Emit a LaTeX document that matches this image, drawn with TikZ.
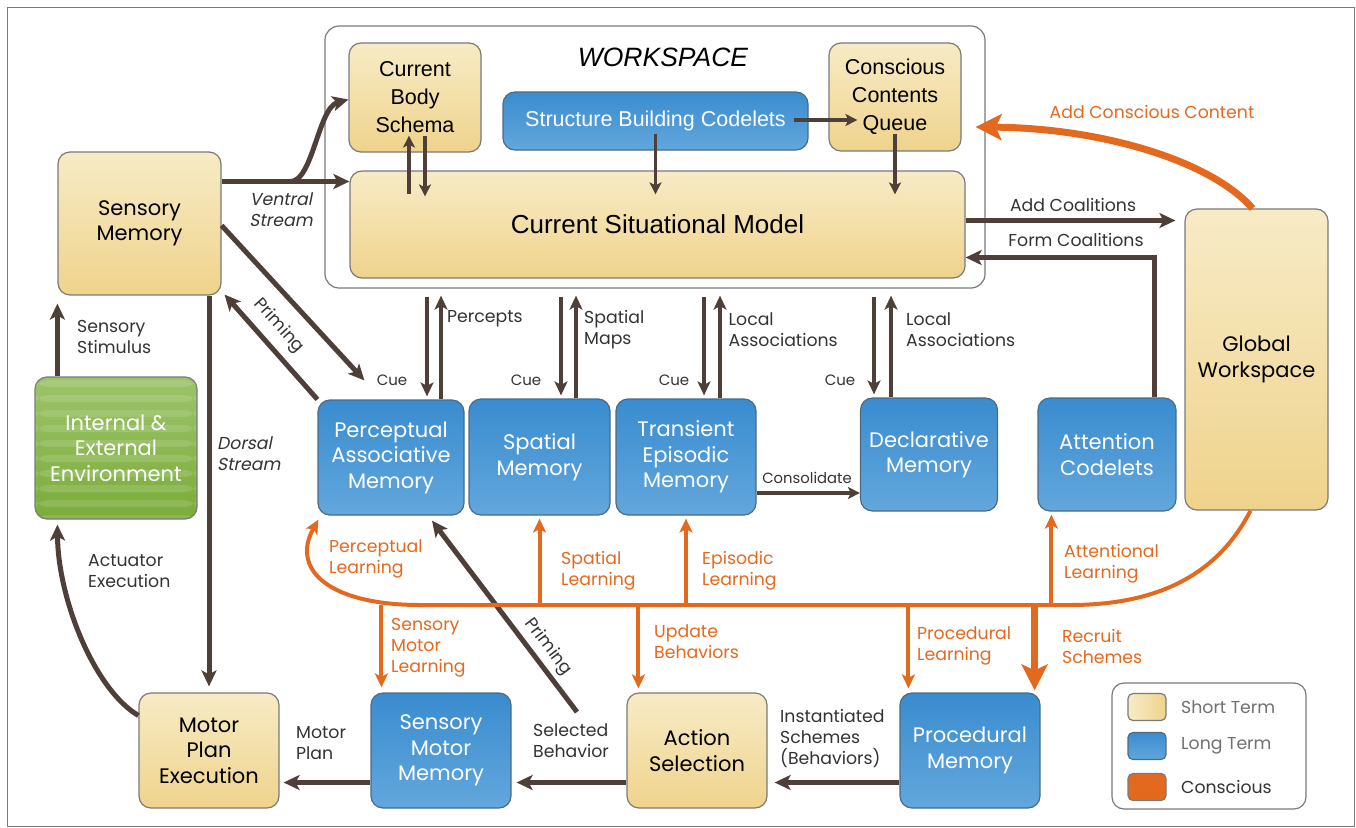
\documentclass[tikz,border=0pt]{standalone}
\usepackage{fontspec}
\setmainfont{Poppins}
\newfontfamily\hvfont{Liberation Sans}
\newfontfamily\slantfont{Poppins}[FakeSlant=0.2]
\usetikzlibrary{arrows.meta,calc}

\definecolor{brownarrow}{HTML}{4E3F38}
\definecolor{orangeline}{HTML}{E3691E}
\definecolor{beigetop}{HTML}{F7EBC6}
\definecolor{beigebot}{HTML}{EFD38C}
\definecolor{bluetop}{HTML}{3A8CCF}
\definecolor{bluebot}{HTML}{62A7DC}
\definecolor{blueline}{HTML}{4D6A85}
\definecolor{boxline}{HTML}{7A7A7A}
\definecolor{greentop}{HTML}{9CC46A}
\definecolor{greenbot}{HTML}{7BAC3A}
\definecolor{labelgray}{HTML}{333333}
\definecolor{legendgray}{HTML}{707070}

\newcommand\boxsize{\fontsize{21}{25.5}\selectfont}
\newcommand\lblsize{\fontsize{17.3}{21}\selectfont}
\newcommand\cuesize{\fontsize{15}{17}\selectfont}

\tikzset{
  stm/.style={draw=boxline, line width=1.2pt, rounded corners=12pt, top color=beigetop, bottom color=beigebot, align=center, inner sep=0pt, font=\boxsize},
  ltm/.style={draw=blueline, line width=1.2pt, rounded corners=12pt, top color=bluetop, bottom color=bluebot, text=white, align=center, inner sep=0pt, font=\boxsize},
  wstext/.style={font=\hvfont\fontsize{21.5}{28}\selectfont},
  wsbox/.style={draw=boxline, line width=1.2pt, rounded corners=14pt, fill=white},
  lbl/.style={text=labelgray, align=left, inner sep=0pt, font=\lblsize},
  orlbl/.style={lbl, text=orangeline},
  cuelbl/.style={lbl, font=\cuesize},
  brarrow/.style={draw=brownarrow, line width=5pt, -{Stealth[length=16pt,width=15pt,inset=4pt]}},
  memarrow/.style={draw=brownarrow, line width=4.5pt, -{Stealth[length=14pt,width=13pt,inset=3.5pt]}},
  wsarrow/.style={draw=brownarrow, line width=3.5pt, -{Stealth[length=12pt,width=12pt,inset=3pt]}},
  orarrow/.style={draw=orangeline, line width=4pt, -{Stealth[length=14pt,width=13pt,inset=3.5pt]}},
  bigorarrow/.style={draw=orangeline, line width=7pt, -{Stealth[length=26pt,width=26pt,inset=6pt]}},
}

\begin{document}
\begin{tikzpicture}[x=1pt, y=-1pt]
\useasboundingbox (0,0) rectangle (1356,827);
\draw [boxline, line width=1pt] (7,7) rectangle (1354,826);

\node (ws) at (655,157) [wsbox, minimum width=660pt, minimum height=262pt] {};
\node (wslabel) at (663,57) [font=\hvfont\itshape\fontsize{26.5}{30}\selectfont] {WORKSPACE};
\node (bs) at (415,97.5) [stm, wstext, minimum width=132pt, minimum height=109pt] {Current\\Body\\Schema};
\node (ccq) at (895,97) [stm, wstext, minimum width=132pt, minimum height=108pt] {Conscious\\Contents\\Queue};
\node (sbc) at (655.5,121) [ltm, wstext, minimum width=305pt, minimum height=58pt] {Structure Building Codelets};
\node (csm) at (657.5,224.5) [stm, font=\hvfont\fontsize{26}{30}\selectfont, minimum width=615pt, minimum height=107pt] {Current Situational Model};

\node (sm) at (139.5,223.5) [stm, minimum width=163pt, minimum height=143pt] {Sensory\\Memory};
\node (gw) at (1256.5,359.5) [stm, minimum width=143pt, minimum height=301pt] {Global\\Workspace};
\node (mpe) at (209,750.5) [stm, minimum width=140pt, minimum height=115pt] {Motor\\Plan\\Execution};
\node (as) at (697,750.5) [stm, minimum width=140pt, minimum height=115pt] {Action\\Selection};

\node (pam) at (391,457.5) [ltm, minimum width=146pt, minimum height=115pt] {Perceptual\\Associative\\Memory};
\node (spm) at (539.5,457) [ltm, minimum width=141pt, minimum height=116pt] {Spatial\\Memory};
\node (tem) at (686,457) [ltm, minimum width=140pt, minimum height=116pt] {Transient\\Episodic\\Memory};
\node (dm) at (929,454.5) [ltm, minimum width=137pt, minimum height=113pt] {Declarative\\Memory};
\node (ac) at (1107,454.5) [ltm, minimum width=138pt, minimum height=113pt] {Attention\\Codelets};
\node (smm) at (441,750.5) [ltm, minimum width=140pt, minimum height=115pt] {Sensory\\Motor\\Memory};
\node (pm) at (970,750.5) [ltm, minimum width=140pt, minimum height=115pt] {Procedural\\Memory};

\node (env) at (116,448) [draw=boxline, line width=1.2pt, rounded corners=12pt, top color=greentop, bottom color=greenbot, text=white, align=center, inner sep=0pt, font=\boxsize, minimum width=162pt, minimum height=142pt,
  path picture={\foreach \k in {0,...,9} \fill [white, opacity=0.13] ([yshift=-\k*15pt-3pt]path picture bounding box.north west) rectangle ([yshift=-\k*15pt-10pt]path picture bounding box.north east);}] {Internal \&\\External\\Environment};

\draw [wsarrow] ($(bs.south |- csm.north)+(-6,24)$) -- ($(bs.south)+(-6,-17)$);
\draw [wsarrow] ($(bs.south)+(10,-17)$) -- ($(bs.south |- csm.north)+(10,26)$);
\draw [wsarrow] ($(sbc.east)+(-15,-1)$) -- ($(ccq.west)+(29,23)$);
\draw [wsarrow] ($(sbc.south)+(0,-17)$) -- ($(sbc.south |- csm.north)+(0,24)$);
\draw [wsarrow] ($(ccq.south)+(0,-18)$) -- ($(ccq.south |- csm.north)+(0,24)$);

\coordinate (vs) at ($(sm.east)+(0,-42)$);
\draw [brarrow] (vs) -- (vs -| csm.west);
\draw [brarrow] ($(vs)+(69,0)$) .. controls +(22,0) and +(-30,8) .. ($(bs.west)+(0,2)$);
\node (vslbl) at (281,210) [lbl, align=center, font=\slantfont\lblsize] {Ventral\\Stream};

\coordinate (addc) at ($(csm.east)+(0,-4)$);
\draw [brarrow, shorten >=9pt] (addc) -- (addc -| gw.west);
\node (addclbl) at (1073,205) [lbl] {Add Coalitions};
\draw [brarrow] ($(ac.north)+(47,0)$) |- ($(csm.east)+(0,33)$);
\node (formlbl) at (1076,240) [lbl] {Form Coalitions};

\draw [bigorarrow] ($(gw.north)+(-4,0)$) .. controls (1210,160) and (1100,128) .. ($(ccq.east)+(14,30)$);
\node (acclbl) at (1152,112) [orlbl] {Add Conscious Content};

\draw [brarrow] ($(sm.east)+(0,2)$) -- ($(pam.north west)+(47,-19)$);
\draw [brarrow] (pam.north west) -- ($(sm.south east)+(3,-1)$);
\node (prim1) at (279,326) [lbl, rotate=-48] {Priming};

\draw [brarrow] ($(env.north west)+(23,0)$) -- ($(sm.south west)+(0,8)$);
\node (sslbl) at (77,337) [lbl, anchor=west] {Sensory\\Stimulus};

\draw [brarrow] (mpe.north |- sm.south) -- ($(mpe.north)+(0,-6)$);
\node (dslbl) at (217,454) [lbl, anchor=west, font=\slantfont\lblsize] {Dorsal\\Stream};

\draw [brarrow] ($(mpe.west)+(0,-35)$) .. controls (95,690) and (58,600) .. ($(env.south west)+(23,5)$);
\node (aelbl) at (88,571) [lbl, anchor=west] {Actuator\\Execution};

\draw [brarrow] ($(smm.west)+(0,32)$) -- ($(mpe.east)+(4,32)$);
\node (mplbl) at (296,743) [lbl, anchor=west] {Motor\\Plan};
\draw [brarrow] ($(as.west)+(0,32)$) -- ($(smm.east)+(5,32)$);
\node (sblbl) at (533,741) [lbl, anchor=west] {Selected\\Behavior};
\draw [brarrow] ($(pm.west)+(0,32)$) -- ($(as.east)+(7,32)$);
\node (islbl) at (780,739) [lbl, anchor=west] {Instantiated\\Schemes\\(Behaviors)};

\coordinate (selb) at (577,712);
\draw [brarrow] (selb) -- ($(pam.south)+(41,5)$);
\node (prim2) at (548,647) [lbl, rotate=-53] {Priming};

\coordinate (cons) at ($(tem.east)+(0,36)$);
\draw [wsarrow] (cons) -- (cons -| dm.west);
\node (conslbl) at (807,478) [lbl, font=\fontsize{14.8}{18}\selectfont] {Consolidate};

\draw [memarrow] ($(pam.north |- ws.south)+(36,8)$) -- ($(pam.north)+(36,-3)$);
\draw [memarrow] ($(pam.north)+(50,0)$) -- ($(pam.north |- ws.south)+(50,7)$);
\node (cue1) at (392,380) [cuelbl] {Cue};
\node (perclbl) at (447,319) [lbl, anchor=west] {Percepts};

\draw [memarrow] ($(spm.north |- ws.south)+(21.5,8)$) -- ($(spm.north)+(21.5,-3)$);
\draw [memarrow] ($(spm.north)+(36.5,0)$) -- ($(spm.north |- ws.south)+(36.5,7)$);
\node (cue2) at (526,380) [cuelbl] {Cue};
\node (smlbl) at (584,330) [lbl, anchor=west] {Spatial\\Maps};

\draw [memarrow] ($(tem.north |- ws.south)+(18,8)$) -- ($(tem.north)+(18,-3)$);
\draw [memarrow] ($(tem.north)+(34,0)$) -- ($(tem.north |- ws.south)+(34,7)$);
\node (cue3) at (674,380) [cuelbl] {Cue};
\node (la1lbl) at (728.5,330) [lbl, anchor=west] {Local\\Associations};

\draw [memarrow] ($(dm.north |- ws.south)+(-55,8)$) -- ($(dm.north)+(-55,-3)$);
\draw [memarrow] ($(dm.north)+(-38,0)$) -- ($(dm.north |- ws.south)+(-38,7)$);
\node (cue4) at (840,380) [cuelbl] {Cue};
\node (la2lbl) at (906,330) [lbl, anchor=west] {Local\\Associations};

\coordinate (bus) at (700,605);
\draw [orarrow] ($(gw.south)+(-6,0)$) .. controls (1215,580) and (1150,605) .. (1070,605) -- (420,605) .. controls (330,605) and (290,570) .. ($(pam.south west)+(1,4)$);
\node (pllbl) at (329,559) [orlbl, anchor=west] {Perceptual\\Learning};

\draw [orarrow] (bus -| spm.south) -- ($(spm.south)+(0,3)$);
\node (sllbl) at (561,571) [orlbl, anchor=west] {Spatial\\Learning};
\draw [orarrow] (bus -| tem.south) -- ($(tem.south)+(0,3)$);
\node (ellbl) at (702,571) [orlbl, anchor=west] {Episodic\\Learning};
\coordinate (attl) at ($(ac.south west)+(14,3)$);
\draw [orarrow] (bus -| attl) -- (attl);
\node (allbl) at (1064,564) [orlbl, anchor=west] {Attentional\\Learning};

\coordinate (sml) at ($(smm.north west)+(11,-5)$);
\draw [orarrow] (bus -| sml) -- (sml);
\node (smllbl) at (391,648) [orlbl, anchor=west] {Sensory\\Motor\\Learning};
\coordinate (upb) at ($(as.north west)+(12,-4)$);
\draw [orarrow] (bus -| upb) -- (upb);
\node (ublbl) at (654,642) [orlbl, anchor=west] {Update\\Behaviors};
\coordinate (prl) at ($(pm.north west)+(9,-4)$);
\draw [orarrow] (bus -| prl) -- (prl);
\node (prllbl) at (917,646) [orlbl, anchor=west] {Procedural\\Learning};
\coordinate (rcs) at ($(pm.north east)+(-6,-2)$);
\draw [bigorarrow] (bus -| rcs) -- (rcs);
\node (rslbl) at (1062,646) [orlbl, anchor=west] {Recruit\\Schemes};

\node (leg) at (1209,746) [draw=boxline, line width=1.2pt, rounded corners=12pt, fill=white, minimum width=194pt, minimum height=126pt] {};
\node (lst) at (1147,707) [stm, rounded corners=5pt, left color=beigetop, right color=beigebot, minimum width=38pt, minimum height=27pt] {};
\node (llt) at (1147,746) [ltm, rounded corners=5pt, minimum width=38pt, minimum height=27pt] {};
\node (lco) at (1147,787) [draw=boxline, line width=1.2pt, rounded corners=5pt, fill=orangeline, minimum width=38pt, minimum height=27pt] {};
\node (lsttxt) at (1181,707) [lbl, anchor=west, text=legendgray] {Short Term};
\node (llttxt) at (1181,746) [lbl, anchor=west, text=legendgray] {Long Term};
\node (lcotxt) at (1181,787) [lbl, anchor=west] {Conscious};
\end{tikzpicture}
\end{document}
